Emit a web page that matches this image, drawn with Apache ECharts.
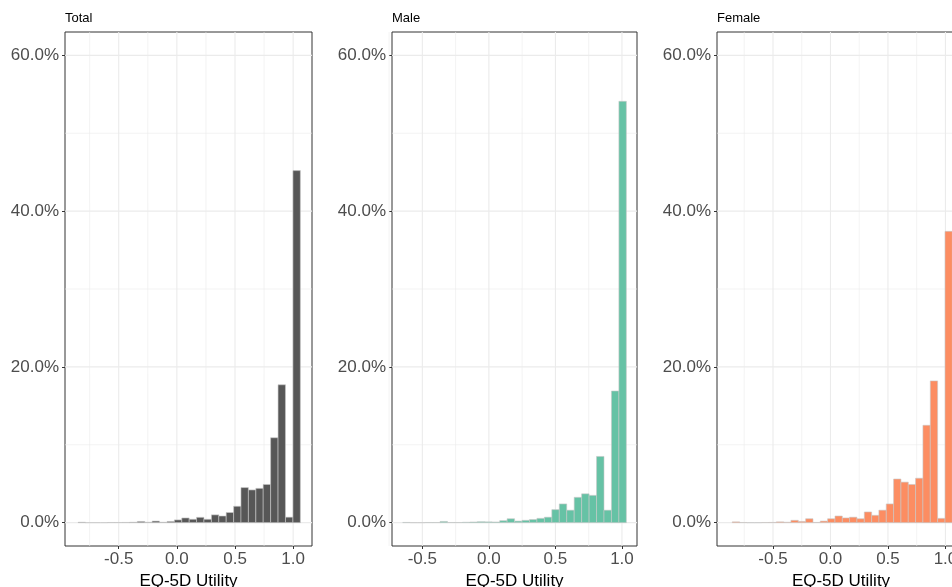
<!DOCTYPE html>
<html>
<head>
<meta charset="utf-8">
<script src="https://cdn.jsdelivr.net/npm/echarts@6/dist/echarts.min.js"></script>
<style>html,body{margin:0;padding:0;background:#fff}#c{width:952px;height:587px}</style>
</head>
<body>
<div id="c"></div>
<script>
// ---- data ----
const panelTitles = ['Total', 'Male', 'Female'];
// bin centres (EQ-5D utility) for each panel
const binCentersTotal = [-0.817,-0.754,-0.690,-0.626,-0.563,-0.499,-0.435,-0.372,-0.308,-0.244,-0.181,-0.117,-0.053,0.010,0.074,0.138,0.201,0.265,0.329,0.392,0.456,0.520,0.583,0.647,0.711,0.774,0.838,0.902,0.966,1.030];
const binCentersFemale = [-0.822,-0.758,-0.694,-0.630,-0.567,-0.503,-0.439,-0.375,-0.312,-0.248,-0.184,-0.120,-0.057,0.007,0.071,0.135,0.198,0.262,0.326,0.390,0.453,0.517,0.581,0.645,0.708,0.772,0.836,0.900,0.964,1.028];
const binCentersMale = [-0.619,-0.563,-0.507,-0.451,-0.395,-0.339,-0.283,-0.227,-0.171,-0.115,-0.059,-0.003,0.053,0.109,0.165,0.221,0.277,0.333,0.389,0.445,0.501,0.557,0.613,0.669,0.725,0.781,0.837,0.893,0.949,1.005];
const binWidthTotal = 0.0637;
const binWidthFemale = 0.0637;
const binWidthMale = 0.056;
// percentage of respondents in each bin
const pctTotal  = [0.05,0,0,0,0.02,0.02,0.03,0.05,0.15,0.05,0.2,0.05,0.15,0.35,0.6,0.43,0.68,0.43,1.0,0.85,1.3,2.1,4.5,4.2,4.4,4.9,10.9,17.7,0.7,45.2];
const pctMale   = [0.03,0,0,0.02,0.02,0.15,0.02,0.02,0.05,0.08,0.12,0.1,0.08,0.25,0.5,0.2,0.3,0.4,0.55,0.7,1.67,2.4,1.6,3.25,3.7,3.5,8.5,1.6,16.9,54.1];
const pctFemale = [0.1,0.02,0,0,0.02,0.03,0.1,0.05,0.3,0.15,0.5,0.03,0.2,0.5,0.85,0.6,0.7,0.5,1.37,0.94,1.6,2.4,5.6,5.2,4.9,5.7,12.5,18.2,0.55,37.4];
// axis ticks
const xTicks = [-0.5, 0.0, 0.5, 1.0];
const xMinor = [-0.75, -0.25, 0.25, 0.75];
const yTicks = [0, 20, 40, 60];
const yMinor = [10, 30, 50];
const xRanges = [[-0.962, 1.162], [-0.728, 1.113], [-0.987, 1.170]];
const yRange = [-3, 63];

const fills = ['#575757', '#66C2A5', '#FC8D62'];
const lefts = [65, 392, 717];
const widths = [247, 245, 248];
const FONT = "'Liberation Sans', Arial, sans-serif";

const panels = [
  {c: binCentersTotal, w: binWidthTotal, v: pctTotal},
  {c: binCentersMale, w: binWidthMale, v: pctMale},
  {c: binCentersFemale, w: binWidthFemale, v: pctFemale}
];

const grid = [], xAxis = [], yAxis = [], series = [], title = [];
const gridData = [];
xTicks.forEach(v => gridData.push([v, 0, 0]));
xMinor.forEach(v => gridData.push([v, 0, 1]));
yTicks.forEach(v => gridData.push([0, v, 2]));
yMinor.forEach(v => gridData.push([0, v, 3]));

panels.forEach((p, i) => {
  grid.push({left: lefts[i], width: widths[i], top: 32, height: 514, show: true,
    borderColor: '#333333', borderWidth: 1, backgroundColor: '#ffffff',
    containLabel: false, outerBoundsMode: 'none'});
  title.push({text: panelTitles[i], left: lefts[i], top: 12, padding: 0,
    textStyle: {fontFamily: FONT, fontSize: 13, fontWeight: 'normal', color: '#000'}});
  xAxis.push({type: 'value', gridIndex: i, min: xRanges[i][0], max: xRanges[i][1],
    name: 'EQ-5D Utility', nameLocation: 'middle', nameGap: 25,
    nameTextStyle: {fontFamily: FONT, fontSize: 17, color: '#000'},
    axisLine: {show: false, onZero: false},
    axisTick: {show: true, length: 3, customValues: xTicks, lineStyle: {color: '#333333', width: 1}},
    axisLabel: {customValues: xTicks, margin: 5, fontFamily: FONT, fontSize: 17, color: '#4D4D4D',
      formatter: v => v.toFixed(1)},
    splitLine: {show: false}});
  yAxis.push({type: 'value', gridIndex: i, min: yRange[0], max: yRange[1],
    axisLine: {show: false, onZero: false},
    axisTick: {show: true, length: 3, customValues: yTicks, lineStyle: {color: '#333333', width: 1}},
    axisLabel: {customValues: yTicks, margin: 6, fontFamily: FONT, fontSize: 17, color: '#4D4D4D',
      formatter: v => v.toFixed(1) + '%'},
    splitLine: {show: false}});
  // grid lines
  series.push({type: 'custom', xAxisIndex: i, yAxisIndex: i, z: 1, silent: true,
    data: gridData,
    renderItem: (params, api) => {
      const cs = params.coordSys;
      const kind = api.value(2);
      const pt = api.coord([api.value(0), api.value(1)]);
      const major = (kind === 0 || kind === 2);
      let shape;
      if (kind < 2) shape = {x1: pt[0], y1: cs.y, x2: pt[0], y2: cs.y + cs.height};
      else shape = {x1: cs.x, y1: pt[1], x2: cs.x + cs.width, y2: pt[1]};
      return {type: 'line', shape: shape,
        style: {stroke: '#EBEBEB', lineWidth: major ? 1.1 : 0.6}};
    }});
  // histogram bars
  const data = p.c.map((c, k) => [c, p.v[k]]);
  const bw = p.w;
  series.push({type: 'custom', xAxisIndex: i, yAxisIndex: i, z: 2, silent: true,
    data: data,
    renderItem: (params, api) => {
      const c = api.value(0), h = api.value(1);
      const a = api.coord([c - bw / 2, h]);
      const b = api.coord([c + bw / 2, 0]);
      return {type: 'rect', shape: {x: a[0], y: a[1], width: b[0] - a[0], height: b[1] - a[1]},
        style: {fill: fills[i], stroke: '#C8C8C8', lineWidth: 0.6}};
    }});
});

const chart = echarts.init(document.getElementById('c'), null, {renderer: 'canvas'});
chart.setOption({animation: false, backgroundColor: '#ffffff', title, grid, xAxis, yAxis, series});
</script>
</body>
</html>
